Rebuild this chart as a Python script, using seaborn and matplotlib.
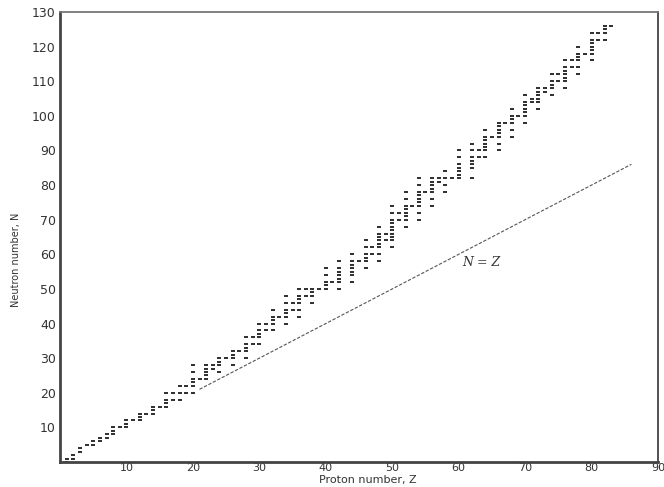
import numpy as np
import pandas as pd
import matplotlib
matplotlib.use("Agg")
import matplotlib.pyplot as plt
import seaborn as sns

# Stable nuclides: proton number Z and the neutron numbers N of its stable isotopes
proton_z = list(range(1, 84))
neutron_n = [
    [0, 1], [1, 2], [3, 4], [5], [5, 6], [6, 7], [7, 8], [8, 9, 10], [10],
    [10, 11, 12], [12], [12, 13, 14], [14], [14, 15, 16], [16], [16, 17, 18, 20],
    [18, 20], [18, 20, 22], [20, 22], [20, 22, 23, 24, 26, 28],
    [24], [24, 25, 26, 27, 28], [27, 28], [26, 28, 29, 30], [30], [28, 30, 31, 32],
    [32], [30, 32, 33, 34, 36], [34, 36], [34, 36, 37, 38, 40],
    [38, 40], [38, 40, 41, 42, 44], [42], [40, 42, 43, 44, 46, 48], [44, 46],
    [42, 44, 46, 47, 48, 50], [48, 50], [46, 48, 49, 50], [50], [50, 51, 52, 54, 56],
    [52], [50, 52, 53, 54, 55, 56, 58], [], [52, 54, 55, 56, 57, 58, 60], [58],
    [56, 58, 59, 60, 62, 64], [60, 62], [58, 60, 62, 63, 64, 65, 66, 68], [64, 66],
    [62, 64, 65, 66, 67, 68, 69, 70, 72, 74],
    [70, 72], [68, 70, 71, 72, 73, 74, 76, 78], [74], [70, 72, 74, 75, 76, 77, 78, 80, 82],
    [78], [74, 76, 78, 79, 80, 81, 82], [81, 82], [78, 80, 82, 84], [82],
    [82, 83, 84, 85, 86, 88, 90],
    [], [82, 85, 86, 87, 88, 90, 92], [88, 90], [88, 90, 91, 92, 93, 94, 96], [94],
    [90, 92, 94, 95, 96, 97, 98], [98], [94, 96, 98, 99, 100, 102], [100],
    [98, 100, 101, 102, 103, 104, 106],
    [104, 105], [102, 104, 105, 106, 107, 108], [107, 108], [106, 108, 109, 110, 112],
    [110, 112], [108, 110, 111, 112, 113, 114, 116], [114, 116],
    [112, 114, 116, 117, 118, 120], [118], [116, 118, 119, 120, 121, 122, 124],
    [122, 124], [122, 124, 125, 126], [126],
]
line_z = [21, 86]
x_ticks = [10, 20, 30, 40, 50, 60, 70, 80, 90]
y_ticks = [10, 20, 30, 40, 50, 60, 70, 80, 90, 100, 110, 120, 130]

rows = [(z, n) for z, ns in zip(proton_z, neutron_n) for n in ns]
df = pd.DataFrame(rows, columns=["Z", "N"])
line_df = pd.DataFrame({"Z": line_z, "N": line_z})

sns.set_style("white")
plt.rcParams["font.family"] = ["DejaVu Sans"]

fig = plt.figure(figsize=(6.64, 4.87), dpi=100)
ax = fig.add_axes([60 / 664, 1 - 462 / 487, 598 / 664, 450 / 487])

dash_marker = [(-1.5, -0.55), (1.5, -0.55), (1.5, 0.55), (-1.5, 0.55)]

sns.lineplot(data=line_df, x="Z", y="N", ax=ax, color="#555555", lw=0.8,
             linestyle=(0, (3, 1.5)))
sns.scatterplot(data=df, x="Z", y="N", ax=ax, marker=dash_marker, s=7,
                color="#333333", linewidth=0)

ax.set_xlim(0, 90)
ax.set_ylim(0, 130)
ax.set_xticks(x_ticks)
ax.set_yticks(y_ticks)
ax.set_xticklabels([str(v) for v in x_ticks], fontsize=8, color="#333333")
ax.set_yticklabels([str(v) for v in y_ticks], fontsize=9, color="#333333")
ax.set_xticks([20, 40, 60, 80], minor=True)
ax.set_yticks([20, 40, 60, 80, 100, 120], minor=True)
ax.tick_params(which="both", length=0)
ax.tick_params(axis="x", pad=1)
ax.tick_params(axis="y", pad=3)
ax.grid(False, which="major")
ax.grid(True, which="minor", color="#8a8a8a", lw=0.9)

for side, spine in ax.spines.items():
    spine.set_visible(True)
    spine.set_color("#444444")
ax.spines["left"].set_linewidth(2.0)
ax.spines["bottom"].set_linewidth(2.0)
ax.spines["top"].set_linewidth(1.3)
ax.spines["right"].set_linewidth(1.3)
ax.spines["top"].set_color("#777777")

ax.set_xlabel("Proton number, Z", fontsize=8, color="#333333")
ax.set_ylabel("Neutron number, N", fontsize=7, color="#333333")
ax.yaxis.set_label_coords(-0.066, 0.45)
ax.xaxis.set_label_coords(0.515, -0.029)

ax.text(60.5, 57.5, "N = Z", fontsize=9, style="italic", family="DejaVu Serif",
        color="#333333", ha="left", va="center")

fig.savefig("out.png", dpi=100)
